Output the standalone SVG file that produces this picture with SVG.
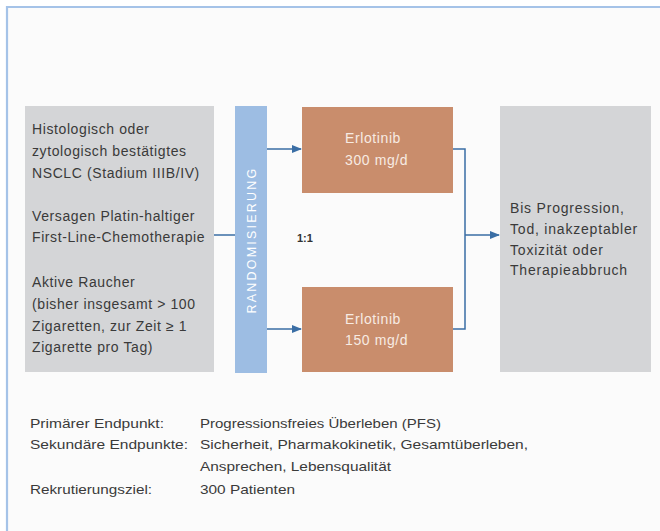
<svg xmlns="http://www.w3.org/2000/svg" width="660" height="531" viewBox="0 0 660 531">
<defs>
<style>
.t{font-family:"Liberation Sans",Arial,sans-serif;font-size:14px;fill:#3a3a3a;letter-spacing:0.6px}
.r{font-family:"Liberation Sans",Arial,sans-serif;font-size:14px;fill:#3a3a3a;letter-spacing:0.8px}
.w{font-family:"Liberation Sans",Arial,sans-serif;font-size:14px;fill:#f7ebe3;letter-spacing:0.6px}
.b{font-family:"Liberation Sans",Arial,sans-serif;font-size:13px;fill:#3a3a3a}
.gray{fill:#d4d5d7}
.or{fill:#c98d6c}
.ln{stroke:#3a6ea5;stroke-width:1.5;fill:none}
</style>
<marker id="ah" markerWidth="10" markerHeight="8" refX="9" refY="4" orient="auto" markerUnits="userSpaceOnUse">
<path d="M0,0 L10,4 L0,8 Z" fill="#3a6ea5"/>
</marker>
</defs>
<rect x="0" y="0" width="660" height="531" fill="#ffffff"/>
<rect x="7" y="7" width="653" height="524" fill="#fbfbfb"/>
<path d="M7,531 L7,7 L660,7" stroke="#a5c3e8" stroke-width="2.2" fill="none"/>

<g id="inclusion">
<rect class="gray" x="25" y="106" width="189" height="266"/>
<text class="t" x="32" y="134">Histologisch oder</text>
<text class="t" x="32" y="156">zytologisch bestätigtes</text>
<text class="t" x="32" y="178">NSCLC (Stadium IIIB/IV)</text>
<text class="t" x="32" y="221">Versagen Platin-haltiger</text>
<text class="t" x="32" y="242">First-Line-Chemotherapie</text>
<text class="t" x="32" y="287">Aktive Raucher</text>
<text class="t" x="32" y="309">(bisher insgesamt &gt; 100</text>
<text class="t" x="32" y="331">Zigaretten, zur Zeit ≥ 1</text>
<text class="t" x="32" y="352">Zigarette pro Tag)</text>
</g>

<g id="randomisierung">
<rect x="235" y="106" width="32" height="267" fill="#9dbde3"/>
<text transform="translate(256,240) rotate(-90)" text-anchor="middle" font-family="'Liberation Sans',Arial,sans-serif" font-size="12.5" fill="#ffffff" letter-spacing="2.2">RANDOMISIERUNG</text>
</g>

<g id="arm300">
<rect class="or" x="302" y="107" width="151" height="86"/>
<text class="w" x="345" y="143">Erlotinib</text>
<text class="w" x="345" y="165">300 mg/d</text>
</g>

<g id="arm150">
<rect class="or" x="302" y="287" width="151" height="85"/>
<text class="w" x="345" y="324">Erlotinib</text>
<text class="w" x="345" y="345">150 mg/d</text>
</g>

<g id="ratio">
<text x="297" y="242" font-family="'Liberation Sans',Arial,sans-serif" font-size="11" font-weight="bold" fill="#333333">1:1</text>
</g>

<g id="outcome">
<rect class="gray" x="500" y="106" width="151" height="266"/>
<text class="r" x="510" y="213">Bis Progression,</text>
<text class="r" x="510" y="234">Tod, inakzeptabler</text>
<text class="r" x="510" y="255">Toxizität oder</text>
<text class="r" x="510" y="275">Therapieabbruch</text>
</g>

<g id="connectors">
<line class="ln" x1="214" y1="235" x2="235" y2="235"/>
<line class="ln" x1="267" y1="149" x2="301" y2="149" marker-end="url(#ah)"/>
<line class="ln" x1="267" y1="329" x2="301" y2="329" marker-end="url(#ah)"/>
<path class="ln" d="M453,149 H465 V329 H453"/>
<line class="ln" x1="465" y1="235" x2="499" y2="235" marker-end="url(#ah)"/>
</g>

<g id="endpoints">
<text class="b" x="30" y="428" textLength="134" lengthAdjust="spacingAndGlyphs">Primärer Endpunkt:</text>
<text class="b" x="200" y="428" textLength="241" lengthAdjust="spacingAndGlyphs">Progressionsfreies Überleben (PFS)</text>
<text class="b" x="30" y="449" textLength="158" lengthAdjust="spacingAndGlyphs">Sekundäre Endpunkte:</text>
<text class="b" x="200" y="449" textLength="328" lengthAdjust="spacingAndGlyphs">Sicherheit, Pharmakokinetik, Gesamtüberleben,</text>
<text class="b" x="200" y="471" textLength="191" lengthAdjust="spacingAndGlyphs">Ansprechen, Lebensqualität</text>
<text class="b" x="30" y="494" textLength="122" lengthAdjust="spacingAndGlyphs">Rekrutierungsziel:</text>
<text class="b" x="200" y="494" textLength="95" lengthAdjust="spacingAndGlyphs">300 Patienten</text>
</g>
</svg>
